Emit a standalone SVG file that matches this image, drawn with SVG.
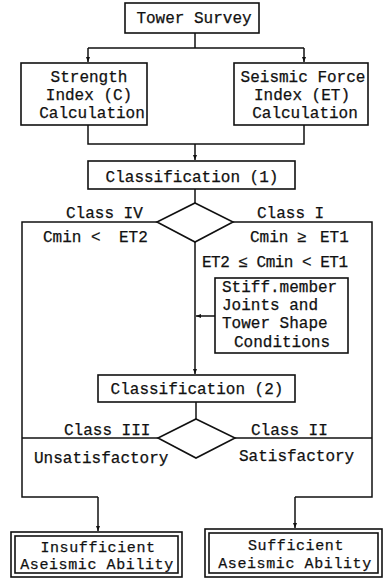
<svg xmlns="http://www.w3.org/2000/svg" width="385" height="578" viewBox="0 0 385 578">
  <style>
    .box { fill: #fff; stroke: #111; stroke-width: 1.6; }
    .wire { fill: none; stroke: #111; stroke-width: 1.5; }
    text { font-family: "Liberation Mono", "Courier New", monospace; font-size: 16px; fill: #111; stroke: #111; stroke-width: 0.25; }
    .mid { text-anchor: middle; }
    .tight { font-size: 15px; letter-spacing: 0.6px; }
  </style>
  <defs>
    <marker id="arrow" viewBox="0 0 10 10" refX="10" refY="5" markerWidth="5" markerHeight="5" orient="auto" markerUnits="userSpaceOnUse">
      <path d="M0,1 L10,5 L0,9 z" fill="#111"/>
    </marker>
  </defs>

  <!-- connectors -->
  <g id="connectors">
    <path class="wire" d="M195,33 V48 M88,48 H304"/>
    <path class="wire" d="M88,48 V62" marker-end="url(#arrow)"/>
    <path class="wire" d="M304,48 V62" marker-end="url(#arrow)"/>
    <path class="wire" d="M88,125 V144 H304 V125"/>
    <path class="wire" d="M195,144 V160" marker-end="url(#arrow)"/>
    <path class="wire" d="M195,189 V203"/>
    <!-- Class IV / Class I branches -->
    <path class="wire" d="M157,222 H22 V497 H98"/>
    <path class="wire" d="M98,497 V531" marker-end="url(#arrow)"/>
    <path class="wire" d="M233,222 H372 V497 H295"/>
    <path class="wire" d="M295,497 V528" marker-end="url(#arrow)"/>
    <path class="wire" d="M195,242 V374" marker-end="url(#arrow)"/>
    <path class="wire" d="M215,316 H196" marker-end="url(#arrow)"/>
    <path class="wire" d="M196,402 V419"/>
    <!-- Class III / Class II branches -->
    <path class="wire" d="M158,438 H22"/>
    <path class="wire" d="M235,438 H372"/>
  </g>

  <g id="tower-survey">
    <rect class="box" x="125" y="3" width="134" height="30"/>
    <text class="mid" x="194" y="23">Tower Survey</text>
  </g>

  <g id="strength-index">
    <rect class="box" x="21" y="63" width="126" height="62"/>
    <text class="mid" x="89" y="82">Strength</text>
    <text class="mid" x="89" y="100">Index (C)</text>
    <text class="mid" x="92" y="118">Calculation</text>
  </g>

  <g id="seismic-index">
    <rect class="box" x="234" y="63" width="134" height="62"/>
    <text class="mid" x="303" y="82">Seismic Force</text>
    <text class="mid" x="302" y="100">Index (ET)</text>
    <text class="mid" x="305" y="118">Calculation</text>
  </g>

  <g id="classification-1">
    <rect class="box" x="88" y="161" width="207" height="28"/>
    <text class="mid" x="192" y="182">Classification (1)</text>
  </g>

  <g id="decision-1">
    <path class="box" d="M195,203 L233,222 L195,242 L157,222 z"/>
    <text x="66" y="218">Class IV</text>
    <text x="257" y="218">Class I</text>
    <text x="43" y="242">Cmin</text>
    <text x="91" y="242">&lt;</text>
    <text x="119" y="242">ET2</text>
    <text x="250" y="242">Cmin</text>
    <text x="297" y="242">≥</text>
    <text x="320" y="242">ET1</text>
    <text x="202" y="267" textLength="146" lengthAdjust="spacing">ET2 ≤ Cmin &lt; ET1</text>
  </g>

  <g id="member-conditions">
    <rect class="box" x="215" y="278" width="133" height="75"/>
    <text x="222" y="292">Stiff.member</text>
    <text x="222" y="310">Joints and</text>
    <text x="222" y="328">Tower Shape</text>
    <text class="mid" x="282" y="347">Conditions</text>
  </g>

  <g id="classification-2">
    <rect class="box" x="98" y="375" width="197" height="27"/>
    <text class="mid" x="197" y="394">Classification (2)</text>
  </g>

  <g id="decision-2">
    <path class="box" d="M196,419 L235,438 L196,458 L158,438 z"/>
    <text x="64" y="435">Class III</text>
    <text x="251" y="435">Class II</text>
    <text x="34" y="463">Unsatisfactory</text>
    <text x="239" y="461">Satisfactory</text>
  </g>

  <g id="insufficient">
    <rect class="box" x="11" y="532" width="171" height="45"/>
    <rect class="box" x="15" y="536" width="163" height="37"/>
    <text class="mid tight" x="98" y="552">Insufficient</text>
    <text class="mid tight" x="97" y="569">Aseismic Ability</text>
  </g>

  <g id="sufficient">
    <rect class="box" x="205" y="529" width="177" height="48"/>
    <rect class="box" x="209" y="533" width="169" height="40"/>
    <text class="mid tight" x="296" y="550">Sufficient</text>
    <text class="mid tight" x="295" y="568">Aseismic Ability</text>
  </g>
</svg>
